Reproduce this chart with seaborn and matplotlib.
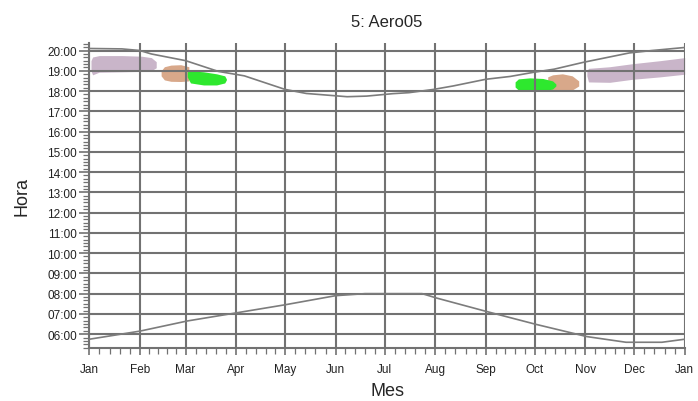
import numpy as np
import pandas as pd
import seaborn as sns
import matplotlib
matplotlib.use("Agg")
from matplotlib import pyplot as plt
from matplotlib.ticker import FixedLocator, MultipleLocator, FuncFormatter

# month starts (day of year) and labels
month_days = [0, 31, 59, 90, 120, 151, 181, 212, 243, 273, 304, 334, 365]
month_names = ["Jan", "Feb", "Mar", "Apr", "May", "Jun", "Jul",
               "Aug", "Sep", "Oct", "Nov", "Dec", "Jan"]

# sunset curve (hours)
sunset_day = [0, 20, 31, 38, 59, 79, 95, 120, 133, 158, 170, 186, 196,
              211, 223, 243, 258, 272, 285, 303, 331, 345, 365]
sunset_hour = [20.1, 20.08, 20.0, 19.83, 19.5, 18.97, 18.75, 18.08, 17.88,
               17.72, 17.75, 17.87, 17.92, 18.08, 18.25, 18.58, 18.72, 18.92,
               19.08, 19.42, 19.88, 20.0, 20.15]

# sunrise curve (hours)
sunrise_day = [0, 31, 60, 90, 120, 151, 169, 191, 204, 213, 243, 274,
               305, 329, 351, 365]
sunrise_hour = [5.75, 6.15, 6.65, 7.05, 7.45, 7.9, 8.0, 8.0, 8.0, 7.78,
                7.13, 6.48, 5.88, 5.6, 5.6, 5.75]

# observation clusters: day, lower hour, upper hour
lav1_day = [1, 2, 6, 20, 32, 38, 41]
lav1_lo = [19.0, 18.8, 18.93, 18.95, 18.97, 19.0, 19.15]
lav1_hi = [19.5, 19.68, 19.75, 19.75, 19.72, 19.65, 19.45]

tan1_day = [44, 46, 50, 56, 61]
tan1_lo = [18.75, 18.55, 18.48, 18.47, 18.5]
tan1_hi = [19.0, 19.2, 19.28, 19.3, 19.2]

grn1_day = [60, 62, 70, 78, 83, 84]
grn1_lo = [18.7, 18.4, 18.3, 18.3, 18.4, 18.55]
grn1_hi = [18.95, 19.0, 18.95, 18.85, 18.75, 18.6]

grn2_day = [261, 263, 270, 278, 284, 286]
grn2_lo = [18.2, 18.05, 18.0, 18.0, 18.1, 18.25]
grn2_hi = [18.45, 18.6, 18.65, 18.62, 18.5, 18.35]

tan2_day = [281, 284, 290, 296, 300]
tan2_lo = [18.05, 18.0, 18.0, 18.05, 18.25]
tan2_hi = [18.7, 18.8, 18.85, 18.75, 18.5]

lav2_day = [305, 306, 319, 333, 350, 365]
lav2_lo = [18.75, 18.45, 18.43, 18.58, 18.7, 18.83]
lav2_hi = [19.0, 19.12, 19.2, 19.35, 19.5, 19.65]

hour_ticks = list(range(6, 21))

sns.set_style("white")
plt.rcParams["font.family"] = ["Liberation Sans", "DejaVu Sans"]

fig = plt.figure(figsize=(6.98, 4.02), dpi=100)
ax = fig.add_axes([0.128, 0.132, 0.853, 0.759])

LAV = "#c9b5c9"
TAN = "#d8a88a"
GRN = "#2ee82e"
GRID = "#727272"
CURVE = "#7c7c7c"

for d, lo, hi, c in [(lav1_day, lav1_lo, lav1_hi, LAV),
                     (lav2_day, lav2_lo, lav2_hi, LAV),
                     (tan1_day, tan1_lo, tan1_hi, TAN),
                     (tan2_day, tan2_lo, tan2_hi, TAN),
                     (grn1_day, grn1_lo, grn1_hi, GRN),
                     (grn2_day, grn2_lo, grn2_hi, GRN)]:
    ax.fill_between(d, lo, hi, color=c, lw=0, zorder=1)

sunset = pd.DataFrame({"day": sunset_day, "hour": sunset_hour})
sunrise = pd.DataFrame({"day": sunrise_day, "hour": sunrise_hour})
sns.lineplot(data=sunset, x="day", y="hour", ax=ax, color=CURVE, lw=1.2,
             zorder=4, estimator=None)
sns.lineplot(data=sunrise, x="day", y="hour", ax=ax, color=CURVE, lw=1.2,
             zorder=4, estimator=None)

ax.set_xlim(0, 365)
ax.set_ylim(5.32, 20.38)

ax.xaxis.set_major_locator(FixedLocator(month_days))
ax.set_xticklabels(month_names)
minor_x = []
for a, b in zip(month_days[:-1], month_days[1:]):
    minor_x += [a + (b - a) * k / 5 for k in range(1, 5)]
ax.xaxis.set_minor_locator(FixedLocator(minor_x))

ax.yaxis.set_major_locator(FixedLocator(hour_ticks))
ax.yaxis.set_major_formatter(FuncFormatter(lambda v, p: "%02d:00" % round(v)))
ax.yaxis.set_minor_locator(MultipleLocator(1 / 6))

ax.grid(True, which="major", color=GRID, lw=1.5, zorder=3)
ax.set_axisbelow(False)
for s in ["top", "right"]:
    ax.spines[s].set_visible(False)
for s in ["left", "bottom"]:
    ax.spines[s].set_color(GRID)
    ax.spines[s].set_linewidth(1.5)

ax.tick_params(axis="both", which="both", direction="out", color=GRID,
               labelsize=8.5, labelcolor="#222222")
ax.tick_params(axis="y", which="major", length=7, width=1.2, pad=2, left=True)
ax.tick_params(axis="y", which="minor", length=4.5, width=0.9, left=True)
ax.tick_params(axis="x", which="major", length=5, width=1.2, pad=6, bottom=True)
ax.tick_params(axis="x", which="minor", length=4, width=0.9, bottom=True)

ax.set_title("5: Aero05", fontsize=12, pad=12)
ax.set_xlabel("Mes", fontsize=13, labelpad=5)
ax.set_ylabel("Hora", fontsize=13, labelpad=12)

fig.savefig("out.png", dpi=100, facecolor="white")
